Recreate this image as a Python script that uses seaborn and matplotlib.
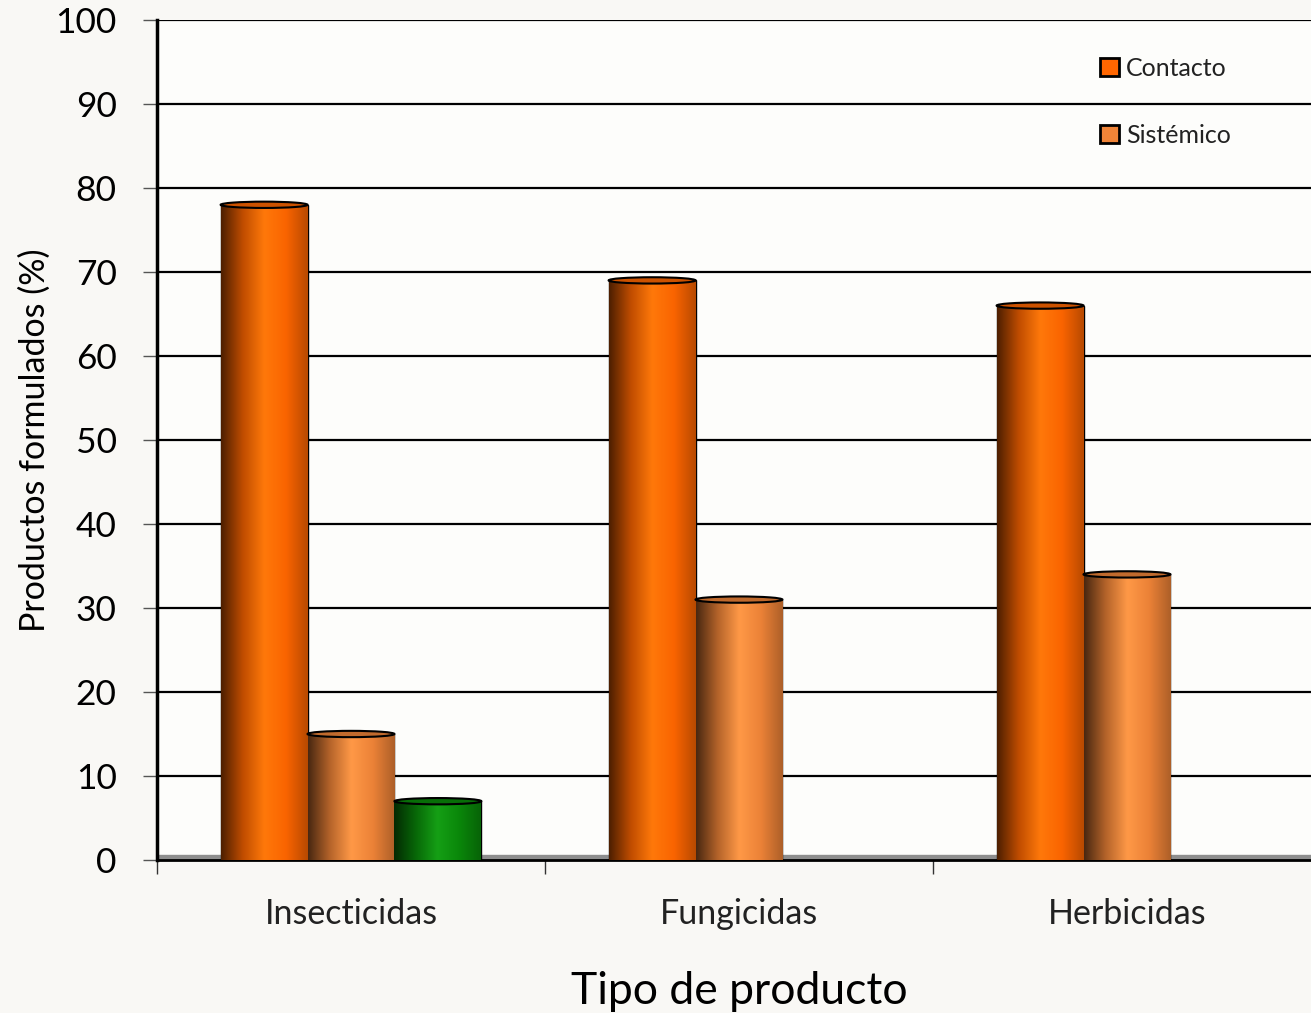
import numpy as np
import pandas as pd
import matplotlib
matplotlib.use("Agg")
import matplotlib.pyplot as plt
import seaborn as sns
from matplotlib.colors import LinearSegmentedColormap, to_rgb
from matplotlib.patches import Ellipse, Patch

# ---- data ----
categorias = ["Insecticidas", "Fungicidas", "Herbicidas"]
contacto = [78, 69, 66]
sistemico = [15, 31, 34]
otro = [7, None, None]
series_names = ["Contacto", "Sistémico", "Otro"]
colores = ["#FF6600", "#F08438", "#0A8A0A"]
yticks = [0, 10, 20, 30, 40, 50, 60, 70, 80, 90, 100]

rows = []
for name, vals in zip(series_names, [contacto, sistemico, otro]):
    for c, v in zip(categorias, vals):
        if v is not None:
            rows.append({"Tipo": c, "Serie": name, "Valor": v})
df = pd.DataFrame(rows)

sns.set_theme(style="white")
plt.rcParams["font.family"] = ["Lato", "DejaVu Sans"]

W, H = 1311, 1013
fig = plt.figure(figsize=(W / 100, H / 100), dpi=100)
fig.patch.set_facecolor("#F9F8F5")
ax = fig.add_axes([157 / W, 153 / H, 1164 / W, 840 / H])
ax.set_facecolor("#FDFDFB")

sns.barplot(data=df, x="Tipo", y="Valor", hue="Serie", order=categorias,
            hue_order=series_names, palette=colores, width=0.672,
            edgecolor="black", linewidth=1.0, legend=False, ax=ax, zorder=3)

ax.set_xlim(-0.5, 2.5)
ax.set_ylim(0, 100)


def shade_cmap(col):
    r = np.array(to_rgb(col))
    pts = [r * 0.3, r * 0.75, np.clip(r * 1.08 + 0.04, 0, 1), r * 0.98, r * 0.72]
    return LinearSegmentedColormap.from_list("c", [tuple(p) for p in pts])


grad = np.linspace(0, 1, 256).reshape(1, -1)
for cont, col in zip(ax.containers, colores):
    cmap = shade_cmap(col)
    for bar in cont:
        h = bar.get_height()
        if h is None or np.isnan(h) or h <= 0:
            continue
        x0 = bar.get_x()
        w = bar.get_width()
        im = ax.imshow(grad, cmap=cmap, extent=(x0, x0 + w, 0, h),
                       aspect="auto", zorder=3.5, interpolation="bicubic")
        im.set_clip_path(bar)
        r = np.array(to_rgb(col))
        top = Ellipse((x0 + w / 2, h), w, 0.75, facecolor=tuple(r * 0.8),
                      edgecolor="black", linewidth=1.5, zorder=4)
        ax.add_patch(top)

ax.set_xlim(-0.5, 2.5)
ax.set_ylim(0, 100)

# floor
ax.axhspan(0, 0.6, color="#8E8E8E", zorder=2)

# grid
ax.set_yticks(yticks)
ax.yaxis.grid(True, color="black", linewidth=1.6, zorder=1)
ax.set_axisbelow(True)
ax.xaxis.grid(False)

for s in ["top", "right"]:
    ax.spines[s].set_visible(False)
ax.spines["left"].set_color("black")
ax.spines["left"].set_linewidth(2.5)
ax.spines["bottom"].set_color("black")
ax.spines["bottom"].set_linewidth(2.0)

ax.tick_params(axis="y", which="major", length=10, width=1, color="#555555",
               labelsize=25.5, pad=19, left=True, direction="out")
ax.tick_params(axis="x", which="major", length=0, labelsize=24.5, pad=27,
               labelcolor="#222222")
ax.set_xticks(range(len(categorias)))
ax.set_xticklabels(categorias)
ax.set_xticks([-0.5, 0.5, 1.5], minor=True)
ax.tick_params(axis="x", which="minor", length=10, width=1, color="#333333",
               bottom=True, direction="out")
for lab in ax.get_yticklabels():
    lab.set_color("black")

ax.set_xlabel("Tipo de producto", fontsize=32, labelpad=30, color="black")
ax.set_ylabel("Productos formulados (%)", fontsize=24.5, labelpad=3, color="black")

handles = [Patch(facecolor=colores[i], edgecolor="black", linewidth=2)
           for i in range(2)]
leg = ax.legend(handles, series_names[:2], loc="upper left",
                bbox_to_anchor=(933 / 1164, 1 - 27 / 840), frameon=False,
                fontsize=18, labelspacing=1.75, handlelength=0.75,
                handleheight=0.75, handletextpad=0.3, borderaxespad=0)
for t in leg.get_texts():
    t.set_color("#222222")

fig.savefig("out.png", dpi=100, facecolor=fig.get_facecolor())
